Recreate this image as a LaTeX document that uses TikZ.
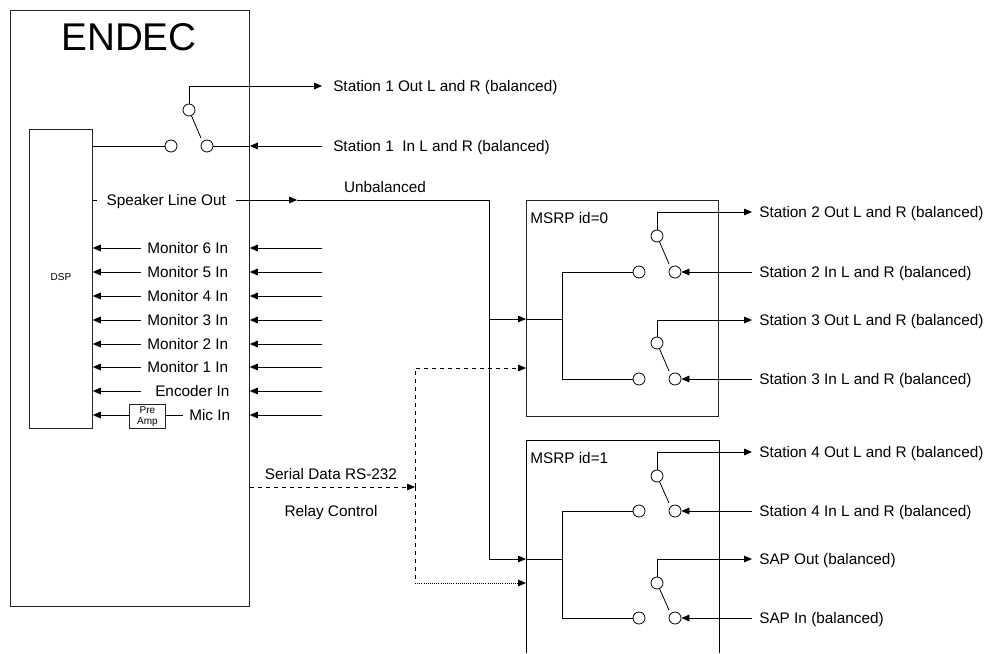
\documentclass[tikz,border=0pt]{standalone}
\usepackage{fontspec}
\setmainfont{Liberation Sans}
\usetikzlibrary{arrows.meta, positioning}

\begin{document}
\begin{tikzpicture}[
  x=0.75pt, y=-0.75pt,
  >={Triangle[length=6pt,width=5pt]},
  wire/.style={draw=black, line width=0.6pt},
  box/.style={rectangle, draw=black!85, line width=0.6pt, anchor=north west, inner sep=0pt},
  contact/.style={circle, draw=black, fill=white, line width=0.6pt, minimum size=9pt, inner sep=0pt},
  txt/.style={inner sep=0pt, text height=10pt, text depth=2pt, font=\fontsize{11.5}{13}\selectfont},
  port/.style={txt, anchor=west, inner xsep=5.25pt},
  farport/.style={port, inner xsep=8.25pt},
  mon/.style={txt, anchor=west, inner xsep=4.5pt}
]
  \useasboundingbox (0,0) rectangle (987,653);

  % boxes
  \node[box, minimum width=179.25pt, minimum height=447pt] (endec) at (10,10) {};
  \node[font=\fontsize{29}{32}\selectfont, inner sep=0pt] (title) at (129,37) {ENDEC};
  \node[box, minimum width=47.25pt, minimum height=224.25pt] (dsp) at (29,129) {};
  \node[font=\fontsize{7.5}{9}\selectfont, inner sep=0pt] (dsplabel) at (61,277) {DSP};
  \node[box, minimum width=27pt, minimum height=18pt, align=center,
        font=\fontsize{7.5}{8.5}\selectfont] (preamp) at (129,404) {Pre\\Amp};
  \node[box, minimum width=144pt, minimum height=162pt] (msrp0) at (526,200) {};
  \node[txt, anchor=west] (msrp0label) at (530,218) {MSRP id=0};
  \coordinate (msrp1bl) at (526,653);
  \coordinate (msrp1tl) at (526,440);
  \coordinate (msrp1tr) at (719,440);
  \coordinate (msrp1br) at (719,653);
  \draw[wire] (msrp1bl) -- (msrp1tl) -- (msrp1tr) -- (msrp1br);
  \node[txt, anchor=west] (msrp1label) at (530,458) {MSRP id=1};

  % switch contacts
  \node[contact] (sw1top) at (189,110) {};
  \node[contact] (sw1l) at (171,146) {};
  \node[contact] (sw1r) at (207,146) {};
  \node[contact] (sw2top) at (657,236) {};
  \node[contact] (sw2l) at (639,272) {};
  \node[contact] (sw2r) at (675,272) {};
  \node[contact] (sw3top) at (657,343) {};
  \node[contact] (sw3l) at (639,379) {};
  \node[contact] (sw3r) at (675,379) {};
  \node[contact] (sw4top) at (657,476) {};
  \node[contact] (sw4l) at (639,511) {};
  \node[contact] (sw4r) at (675,511) {};
  \node[contact] (sw5top) at (657,583) {};
  \node[contact] (sw5l) at (639,618) {};
  \node[contact] (sw5r) at (675,618) {};

  % wiper ends
  \coordinate (wip1) at (201,138);
  \coordinate (wip2) at (669,264);
  \coordinate (wip3) at (669,371);
  \coordinate (wip4) at (669,503);
  \coordinate (wip5) at (669,610);
  \draw[wire] (sw1top) -- (wip1);
  \draw[wire] (sw2top) -- (wip2);
  \draw[wire] (sw3top) -- (wip3);
  \draw[wire] (sw4top) -- (wip4);
  \draw[wire] (sw5top) -- (wip5);

  % station labels
  \node[farport] (st1out) at (322,86) {Station 1 Out L and R (balanced)};
  \node[farport] (st1in) at (322,146) {Station 1~ In L and R (balanced)};
  \node[port] (st2out) at (752,212) {Station 2 Out L and R (balanced)};
  \node[port] (st2in) at (752,272) {Station 2 In L and R (balanced)};
  \node[port] (st3out) at (752,320) {Station 3 Out L and R (balanced)};
  \node[port] (st3in) at (752,379) {Station 3 In L and R (balanced)};
  \node[port] (st4out) at (752,452) {Station 4 Out L and R (balanced)};
  \node[port] (st4in) at (752,511) {Station 4 In L and R (balanced)};
  \node[port] (sapout) at (752,559) {SAP Out (balanced)};
  \node[port] (sapin) at (752,618) {SAP In (balanced)};

  \draw[wire, ->] (sw1top) |- (st1out.west);
  \draw[wire, ->] (sw2top) |- (st2out.west);
  \draw[wire, ->] (sw3top) |- (st3out.west);
  \draw[wire, ->] (sw4top) |- (st4out.west);
  \draw[wire, ->] (sw5top) |- (sapout.west);
  \draw[wire, ->] (st2in.west) -- (sw2r);
  \draw[wire, ->] (st3in.west) -- (sw3r);
  \draw[wire, ->] (st4in.west) -- (sw4r);
  \draw[wire, ->] (sapin.west) -- (sw5r);

  % station 1 input stops at the ENDEC wall
  \coordinate (st1wall) at (st1in.west -| endec.east);
  \draw[wire, ->] (st1in.west) -- (st1wall);
  \draw[wire] (st1wall) -- (sw1r);
  \draw[wire] (dsp.east |- sw1l) -- (sw1l);

  % speaker line
  \node[txt, anchor=west, inner xsep=7pt] (spk) at (97,200) {Speaker Line Out};
  \draw[wire] (dsp.east |- spk) -- (spk.west);
  \coordinate (spkmid) at (297,200);
  \coordinate (trunk) at (489,200);
  \coordinate (trunk0) at (489,319);
  \coordinate (trunk1) at (489,559);
  \coordinate (wall0) at (526,319);
  \coordinate (wall1) at (526,559);
  \node[txt] (unbal) at (385,187) {Unbalanced};
  \draw[wire, ->] (spk.east) -- (spkmid);
  \draw[wire] (spkmid) -- (trunk) -- (trunk1);
  \draw[wire, ->] (trunk0) -- (wall0);
  \draw[wire, ->] (trunk1) -- (wall1);

  % msrp busses
  \coordinate (bus0) at (562,319);
  \coordinate (bus1) at (562,559);
  \draw[wire] (wall0) -- (bus0);
  \draw[wire] (wall1) -- (bus1);
  \draw[wire] (sw2l) -| (sw2l -| bus0) -- (sw3l -| bus0) -- (sw3l);
  \draw[wire] (sw4l) -| (sw4l -| bus1) -- (sw5l -| bus1) -- (sw5l);

  % monitor inputs
  \node[mon] (mon6) at (141,248) {Monitor 6 In};
  \node[mon] (mon5) at (141,272) {Monitor 5 In};
  \node[mon] (mon4) at (141,296) {Monitor 4 In};
  \node[mon] (mon3) at (141,320) {Monitor 3 In};
  \node[mon] (mon2) at (141,344) {Monitor 2 In};
  \node[mon] (mon1) at (141,367) {Monitor 1 In};
  \node[mon, inner xsep=10.5pt] (enc) at (141,391) {Encoder In};
  \node[mon] (mic) at (183,415) {Mic In};
  \draw[wire, ->] (mon6.west) -- (mon6.west -| dsp.east);
  \draw[wire, ->] (mon5.west) -- (mon5.west -| dsp.east);
  \draw[wire, ->] (mon4.west) -- (mon4.west -| dsp.east);
  \draw[wire, ->] (mon3.west) -- (mon3.west -| dsp.east);
  \draw[wire, ->] (mon2.west) -- (mon2.west -| dsp.east);
  \draw[wire, ->] (mon1.west) -- (mon1.west -| dsp.east);
  \draw[wire, ->] (enc.west) -- (enc.west -| dsp.east);
  \draw[wire] (mic.west) -- (mic.west -| preamp.east);
  \draw[wire, ->] (mic.west -| preamp.west) -- (mic.west -| dsp.east);

  \coordinate (in6) at (322,248);
  \coordinate (in5) at (322,272);
  \coordinate (in4) at (322,296);
  \coordinate (in3) at (322,320);
  \coordinate (in2) at (322,344);
  \coordinate (in1) at (322,367);
  \coordinate (inenc) at (322,391);
  \coordinate (inmic) at (322,415);
  \draw[wire, ->] (in6) -- (in6 -| endec.east);
  \draw[wire, ->] (in5) -- (in5 -| endec.east);
  \draw[wire, ->] (in4) -- (in4 -| endec.east);
  \draw[wire, ->] (in3) -- (in3 -| endec.east);
  \draw[wire, ->] (in2) -- (in2 -| endec.east);
  \draw[wire, ->] (in1) -- (in1 -| endec.east);
  \draw[wire, ->] (inenc) -- (inenc -| endec.east);
  \draw[wire, ->] (inmic) -- (inmic -| endec.east);

  % serial data
  \node[txt] (serial) at (331,474) {Serial Data RS-232};
  \node[txt] (relay) at (331,511) {Relay Control};
  \coordinate (split) at (415,487);
  \coordinate (corner) at (415,583);
  \coordinate (data0) at (526,368);
  \coordinate (data1) at (526,583);
  \draw[wire, dashed, ->] (endec.east |- split) -- (split);
  \draw[wire, dashed, ->] (split) |- (data0);
  \draw[wire, dashed] (split) -- (corner);
  \draw[wire, densely dotted, ->] (corner) -- (data1);
\end{tikzpicture}
\end{document}
